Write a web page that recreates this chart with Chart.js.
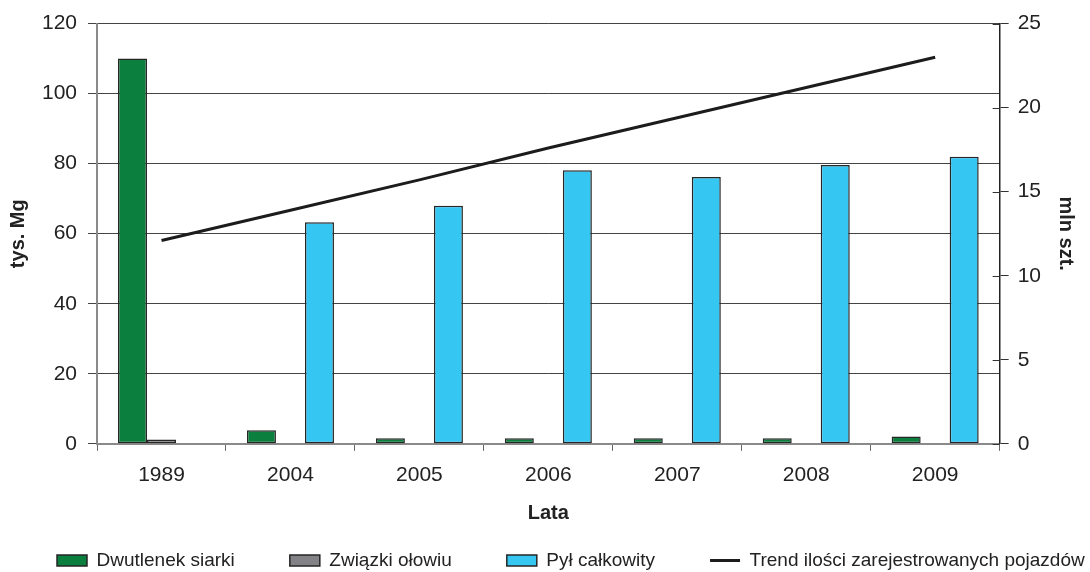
<!DOCTYPE html>
<html>
<head>
<meta charset="utf-8">
<script src="https://cdn.jsdelivr.net/npm/chart.js@4.4.1/dist/chart.umd.min.js"></script>
<style>
  html, body { margin: 0; padding: 0; background: #fff; }
  #wrap { width: 1090px; height: 572px; }
</style>
</head>
<body>
<div id="wrap"><canvas id="chart" width="1090" height="572"></canvas></div>
<script>
// values
const years = ['1989', '2004', '2005', '2006', '2007', '2008', '2009'];
const sulfurDioxide = [110, 3.9, 1.6, 1.6, 1.6, 1.6, 2.1];
const leadCompounds = [1.2, null, null, null, null, null, null];
const totalDust = [null, 63.3, 68.0, 78.1, 76.2, 79.6, 82.0];
const vehicleTrend = [12.1, 13.9, 15.7, 17.6, 19.4, 21.2, 23.0];

const leftMax = 120, leftStep = 20;
const rightMax = 25, rightStep = 5;

Chart.defaults.font.family = "'Liberation Sans', Arial, sans-serif";
Chart.defaults.color = '#222';

const barBorder = '#262626';

// legend sits in one row like in the original, a bit higher than chart.js puts it
// (legend clips to its box, so only the top/left/right edges move)
const legendNudge = {
  id: 'legendNudge',
  afterLayout(chart) {
    const lg = chart.legend;
    lg.left -= 4;
    lg.right += 200;
    lg.top -= 29;
  }
};

// small tick marks on the inner side of the right axis
const innerTicks = {
  id: 'innerTicks',
  afterDraw(chart) {
    const s = chart.scales.y1;
    const c = chart.ctx;
    c.save();
    c.strokeStyle = '#333';
    c.lineWidth = 1;
    s.ticks.forEach(t => {
      const y = Math.round(s.getPixelForValue(t.value)) + 0.5;
      c.beginPath();
      c.moveTo(s.left - 7, y);
      c.lineTo(s.left, y);
      c.stroke();
    });
    c.restore();
  }
};

const ctx = document.getElementById('chart').getContext('2d');
new Chart(ctx, {
  type: 'bar',
  data: {
    labels: years,
    datasets: [
      {
        label: 'Dwutlenek siarki',
        data: sulfurDioxide,
        backgroundColor: '#0a7f3e',
        borderColor: barBorder,
        borderWidth: 1.5,
        borderSkipped: false,
        pointStyle: 'rect',
        yAxisID: 'y',
        order: 1
      },
      {
        label: 'Związki ołowiu',
        data: leadCompounds,
        backgroundColor: '#838387',
        borderColor: barBorder,
        borderWidth: 1.5,
        borderSkipped: false,
        pointStyle: 'rect',
        yAxisID: 'y',
        order: 1
      },
      {
        label: 'Pył całkowity',
        data: totalDust,
        backgroundColor: '#36c6f2',
        borderColor: barBorder,
        borderWidth: 1.5,
        borderSkipped: false,
        pointStyle: 'rect',
        yAxisID: 'y',
        order: 1
      },
      {
        type: 'line',
        label: 'Trend ilości zarejestrowanych pojazdów',
        data: vehicleTrend,
        borderColor: '#1c1c1c',
        backgroundColor: '#1c1c1c',
        borderWidth: 3,
        pointRadius: 0,
        pointStyle: 'line',
        tension: 0,
        yAxisID: 'y1',
        order: 0
      }
    ]
  },
  options: {
    responsive: false,
    animation: false,
    layout: { padding: { top: 7.5, left: 6, right: 4, bottom: 0 } },
    datasets: {
      bar: { categoryPercentage: 0.675, barPercentage: 1 }
    },
    plugins: {
      tooltip: { enabled: false },
      legend: {
        position: 'bottom',
        align: 'start',
        maxHeight: 47,
        labels: {
          font: { size: 19 },
          color: '#222',
          usePointStyle: true,
          pointStyleWidth: 30,
          boxHeight: 11,
          padding: 55,
          sort: (a, b) => a.datasetIndex - b.datasetIndex
        }
      }
    },
    scales: {
      x: {
        grid: {
          display: true,
          drawOnChartArea: false,
          drawTicks: true,
          tickLength: 7,
          color: '#666',
          offset: true
        },
        border: { display: true, color: '#8a8a8a', width: 2 },
        ticks: { font: { size: 21 }, color: '#222', padding: 12 },
        title: {
          display: true,
          text: 'Lata',
          font: { size: 20, weight: 'bold' },
          color: '#222',
          padding: { top: 1, bottom: 0 }
        }
      },
      y: {
        position: 'left',
        min: 0,
        max: leftMax,
        ticks: { stepSize: leftStep, font: { size: 21 }, color: '#222', padding: 11 },
        grid: { color: '#444', lineWidth: 1, tickLength: 9, drawTicks: true },
        border: { display: true, color: '#8a8a8a', width: 2 },
        title: {
          display: true,
          text: 'tys. Mg',
          font: { size: 20, weight: 'bold' },
          color: '#222',
          padding: { top: 0, bottom: 1 }
        }
      },
      y1: {
        position: 'right',
        min: 0,
        max: rightMax,
        ticks: { stepSize: rightStep, font: { size: 21 }, color: '#222', padding: 9 },
        grid: { drawOnChartArea: false, color: '#333', tickLength: 9 },
        border: { display: true, color: '#222', width: 1.5 },
        title: {
          display: true,
          text: 'mln szt.',
          font: { size: 20, weight: 'bold' },
          color: '#222',
          padding: { top: 8, bottom: 4 }
        }
      }
    }
  },
  plugins: [legendNudge, innerTicks]
});
</script>
</body>
</html>
